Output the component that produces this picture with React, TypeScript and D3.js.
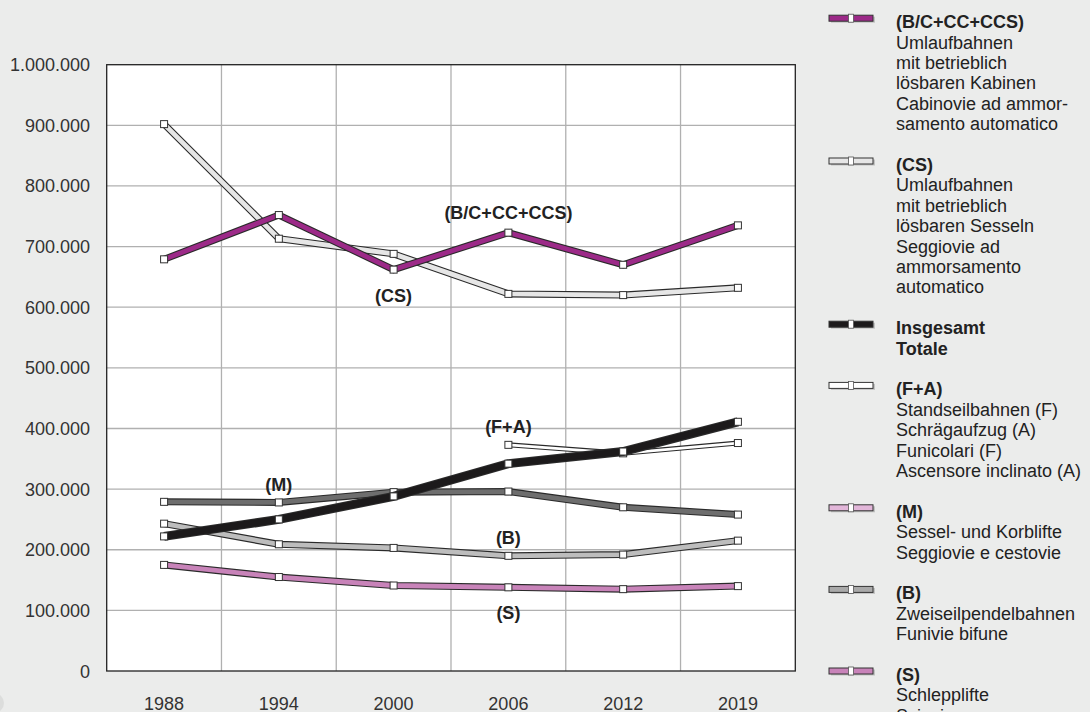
import React from "react";
import * as d3 from "d3";

const years = ["1988", "1994", "2000", "2006", "2012", "2019"];
const yTicks = [0, 100000, 200000, 300000, 400000, 500000, 600000, 700000, 800000, 900000, 1000000];

const seriesS = [175000, 155000, 141000, 138000, 135000, 140000];
const seriesB = [243000, 209000, 203000, 190000, 192000, 215000];
const seriesM = [279000, 278000, 295000, 296000, 270000, 258000];
const seriesCS = [902000, 713000, 688000, 622000, 620000, 632000];
const seriesBC = [679000, 752000, 662000, 723000, 670000, 735000];
const seriesFA = [null, null, null, 373000, 359000, 376000];
const seriesTotal = [222000, 250000, 288000, 342000, 362000, 411000];

type Series = { key: string; values: (number | null)[]; color: string; width: number; label: string; labelYear: string; labelValue: number };

const seriesList: Series[] = [
  { key: "S", values: seriesS, color: "#c883b9", width: 7, label: "(S)", labelYear: "2006", labelValue: 97000 },
  { key: "B", values: seriesB, color: "#bdbdbd", width: 7, label: "(B)", labelYear: "2006", labelValue: 221000 },
  { key: "M", values: seriesM, color: "#6e6e6e", width: 7, label: "(M)", labelYear: "1994", labelValue: 307000 },
  { key: "CS", values: seriesCS, color: "#e6e6e6", width: 7, label: "(CS)", labelYear: "2000", labelValue: 620000 },
  { key: "BC", values: seriesBC, color: "#9c2a88", width: 7, label: "(B/C+CC+CCS)", labelYear: "2006", labelValue: 757000 },
  { key: "FA", values: seriesFA, color: "#ffffff", width: 5, label: "(F+A)", labelYear: "2006", labelValue: 403000 },
  { key: "T", values: seriesTotal, color: "#1c1a1b", width: 9, label: "", labelYear: "2006", labelValue: 0 },
];

const legendColors = ["#9c2a88", "#e6e6e6", "#1c1a1b", "#ffffff", "#e2b6d9", "#a9a9a9", "#c883b9"];
const legendTitles = ["(B/C+CC+CCS)", "(CS)", "Insgesamt", "(F+A)", "(M)", "(B)", "(S)"];
const legendLines = [
  ["Umlaufbahnen", "mit betrieblich", "lösbaren Kabinen", "Cabinovie ad ammor-", "samento automatico"],
  ["Umlaufbahnen", "mit betrieblich", "lösbaren Sesseln", "Seggiovie ad", "ammorsamento", "automatico"],
  ["Totale"],
  ["Standseilbahnen (F)", "Schrägaufzug (A)", "Funicolari (F)", "Ascensore inclinato (A)"],
  ["Sessel- und Korblifte", "Seggiovie e cestovie"],
  ["Zweiseilpendelbahnen", "Funivie bifune"],
  ["Schlepplifte", "Sciovie"],
];
const legendBoldLines = [0, 0, 1, 0, 0, 0, 0];

const W = 1090;
const H = 712;
const FONT = "'Liberation Sans', Arial, Helvetica, sans-serif";

const locale = d3.formatLocale({ decimal: ",", thousands: ".", grouping: [3], currency: ["", ""] });
const fmt = locale.format(",");

export default function App() {
  const plot = { left: 106.7, right: 795.3, top: 64.7, bottom: 671 };
  const x = d3.scaleBand<string>().domain(years).range([plot.left, plot.right]);
  const cx = (yr: string) => (x(yr) as number) + x.bandwidth() / 2;
  const y = d3.scaleLinear().domain([0, 1000000]).range([plot.bottom, plot.top]);

  const line = d3
    .line<number | null>()
    .defined((d) => d !== null)
    .x((_, i) => cx(years[i]))
    .y((d) => y(d as number));

  const lh = 20.4;
  let cursor = 21.7;
  const legendEntries = legendTitles.map((t, i) => {
    const start = cursor;
    cursor += (legendLines[i].length + 2) * lh;
    return { title: t, lines: legendLines[i], color: legendColors[i], start, bold: legendBoldLines[i] };
  });

  return (
    <svg width={W} height={H} style={{ position: "absolute", left: 0, top: 0, background: "#ebeceb" }} fontFamily={FONT}>
      <rect x={0} y={0} width={W} height={H} fill="#ebeceb" />
      <circle cx={-6} cy={703} r={10} fill="#dcdddc" />
      <rect x={plot.left} y={plot.top} width={plot.right - plot.left} height={plot.bottom - plot.top} fill="#ffffff" />
      {/* grid */}
      {yTicks.slice(1, -1).map((t) => (
        <line key={"h" + t} x1={plot.left} x2={plot.right} y1={y(t)} y2={y(t)} stroke="#b0b0b0" strokeWidth={1.3} />
      ))}
      {years.slice(1).map((yr) => (
        <line key={"v" + yr} x1={x(yr)} x2={x(yr)} y1={plot.top} y2={plot.bottom} stroke="#b0b0b0" strokeWidth={1.3} />
      ))}
      <rect x={plot.left} y={plot.top} width={plot.right - plot.left} height={plot.bottom - plot.top} fill="none" stroke="#222" strokeWidth={1.3} />
      {/* y ticks */}
      {yTicks.map((t) => (
        <text key={"yt" + t} x={90} y={y(t) + 6.5} textAnchor="end" fontSize={18} fill="#333">
          {fmt(t)}
        </text>
      ))}
      {years.map((yr) => (
        <text key={"xt" + yr} x={cx(yr)} y={709.5} textAnchor="middle" fontSize={18} fill="#333">
          {yr}
        </text>
      ))}
      {/* series */}
      {seriesList.map((s) => (
        <g key={s.key}>
          <path d={line(s.values) || ""} fill="none" stroke="#2a2a2a" strokeWidth={s.width} strokeLinejoin="miter" />
          <path d={line(s.values) || ""} fill="none" stroke={s.color} strokeWidth={s.width - 2.2} strokeLinejoin="miter" />
          {s.values.map((v, i) =>
            v === null ? null : (
              <rect key={i} x={cx(years[i]) - 3.5} y={y(v) - 3.5} width={7} height={7} fill="#fff" stroke="#333" strokeWidth={1} />
            )
          )}
        </g>
      ))}
      {/* series labels */}
      {seriesList
        .filter((s) => s.label)
        .map((s) => (
          <text key={"l" + s.key} x={cx(s.labelYear)} y={y(s.labelValue) + 6.5} textAnchor="middle" fontSize={18} fontWeight="bold" fill="#222">
            {s.label}
          </text>
        ))}
      {/* legend */}
      {legendEntries.map((e, i) => (
        <g key={"lg" + i}>
          <rect x={831} y={e.start - 3.5 - 1.5} width={44} height={6} fill="#999" opacity={0.5} />
          <rect x={829} y={e.start - 3.5 - 3} width={44} height={6} fill={e.color} stroke="#333" strokeWidth={1} />
          <rect x={848.5} y={e.start - 3.5 - 4} width={5} height={8} fill="#fff" stroke="#555" strokeWidth={0.8} />
          <text x={896} y={e.start + 6.5} fontSize={18} fontWeight="bold" fill="#222">
            {e.title}
          </text>
          {e.lines.map((ln, j) => (
            <text key={j} x={896} y={e.start + (j + 1) * lh + 6.5} fontSize={18} fontWeight={j < e.bold ? "bold" : "normal"} fill="#222">
              {ln}
            </text>
          ))}
        </g>
      ))}
    </svg>
  );
}
